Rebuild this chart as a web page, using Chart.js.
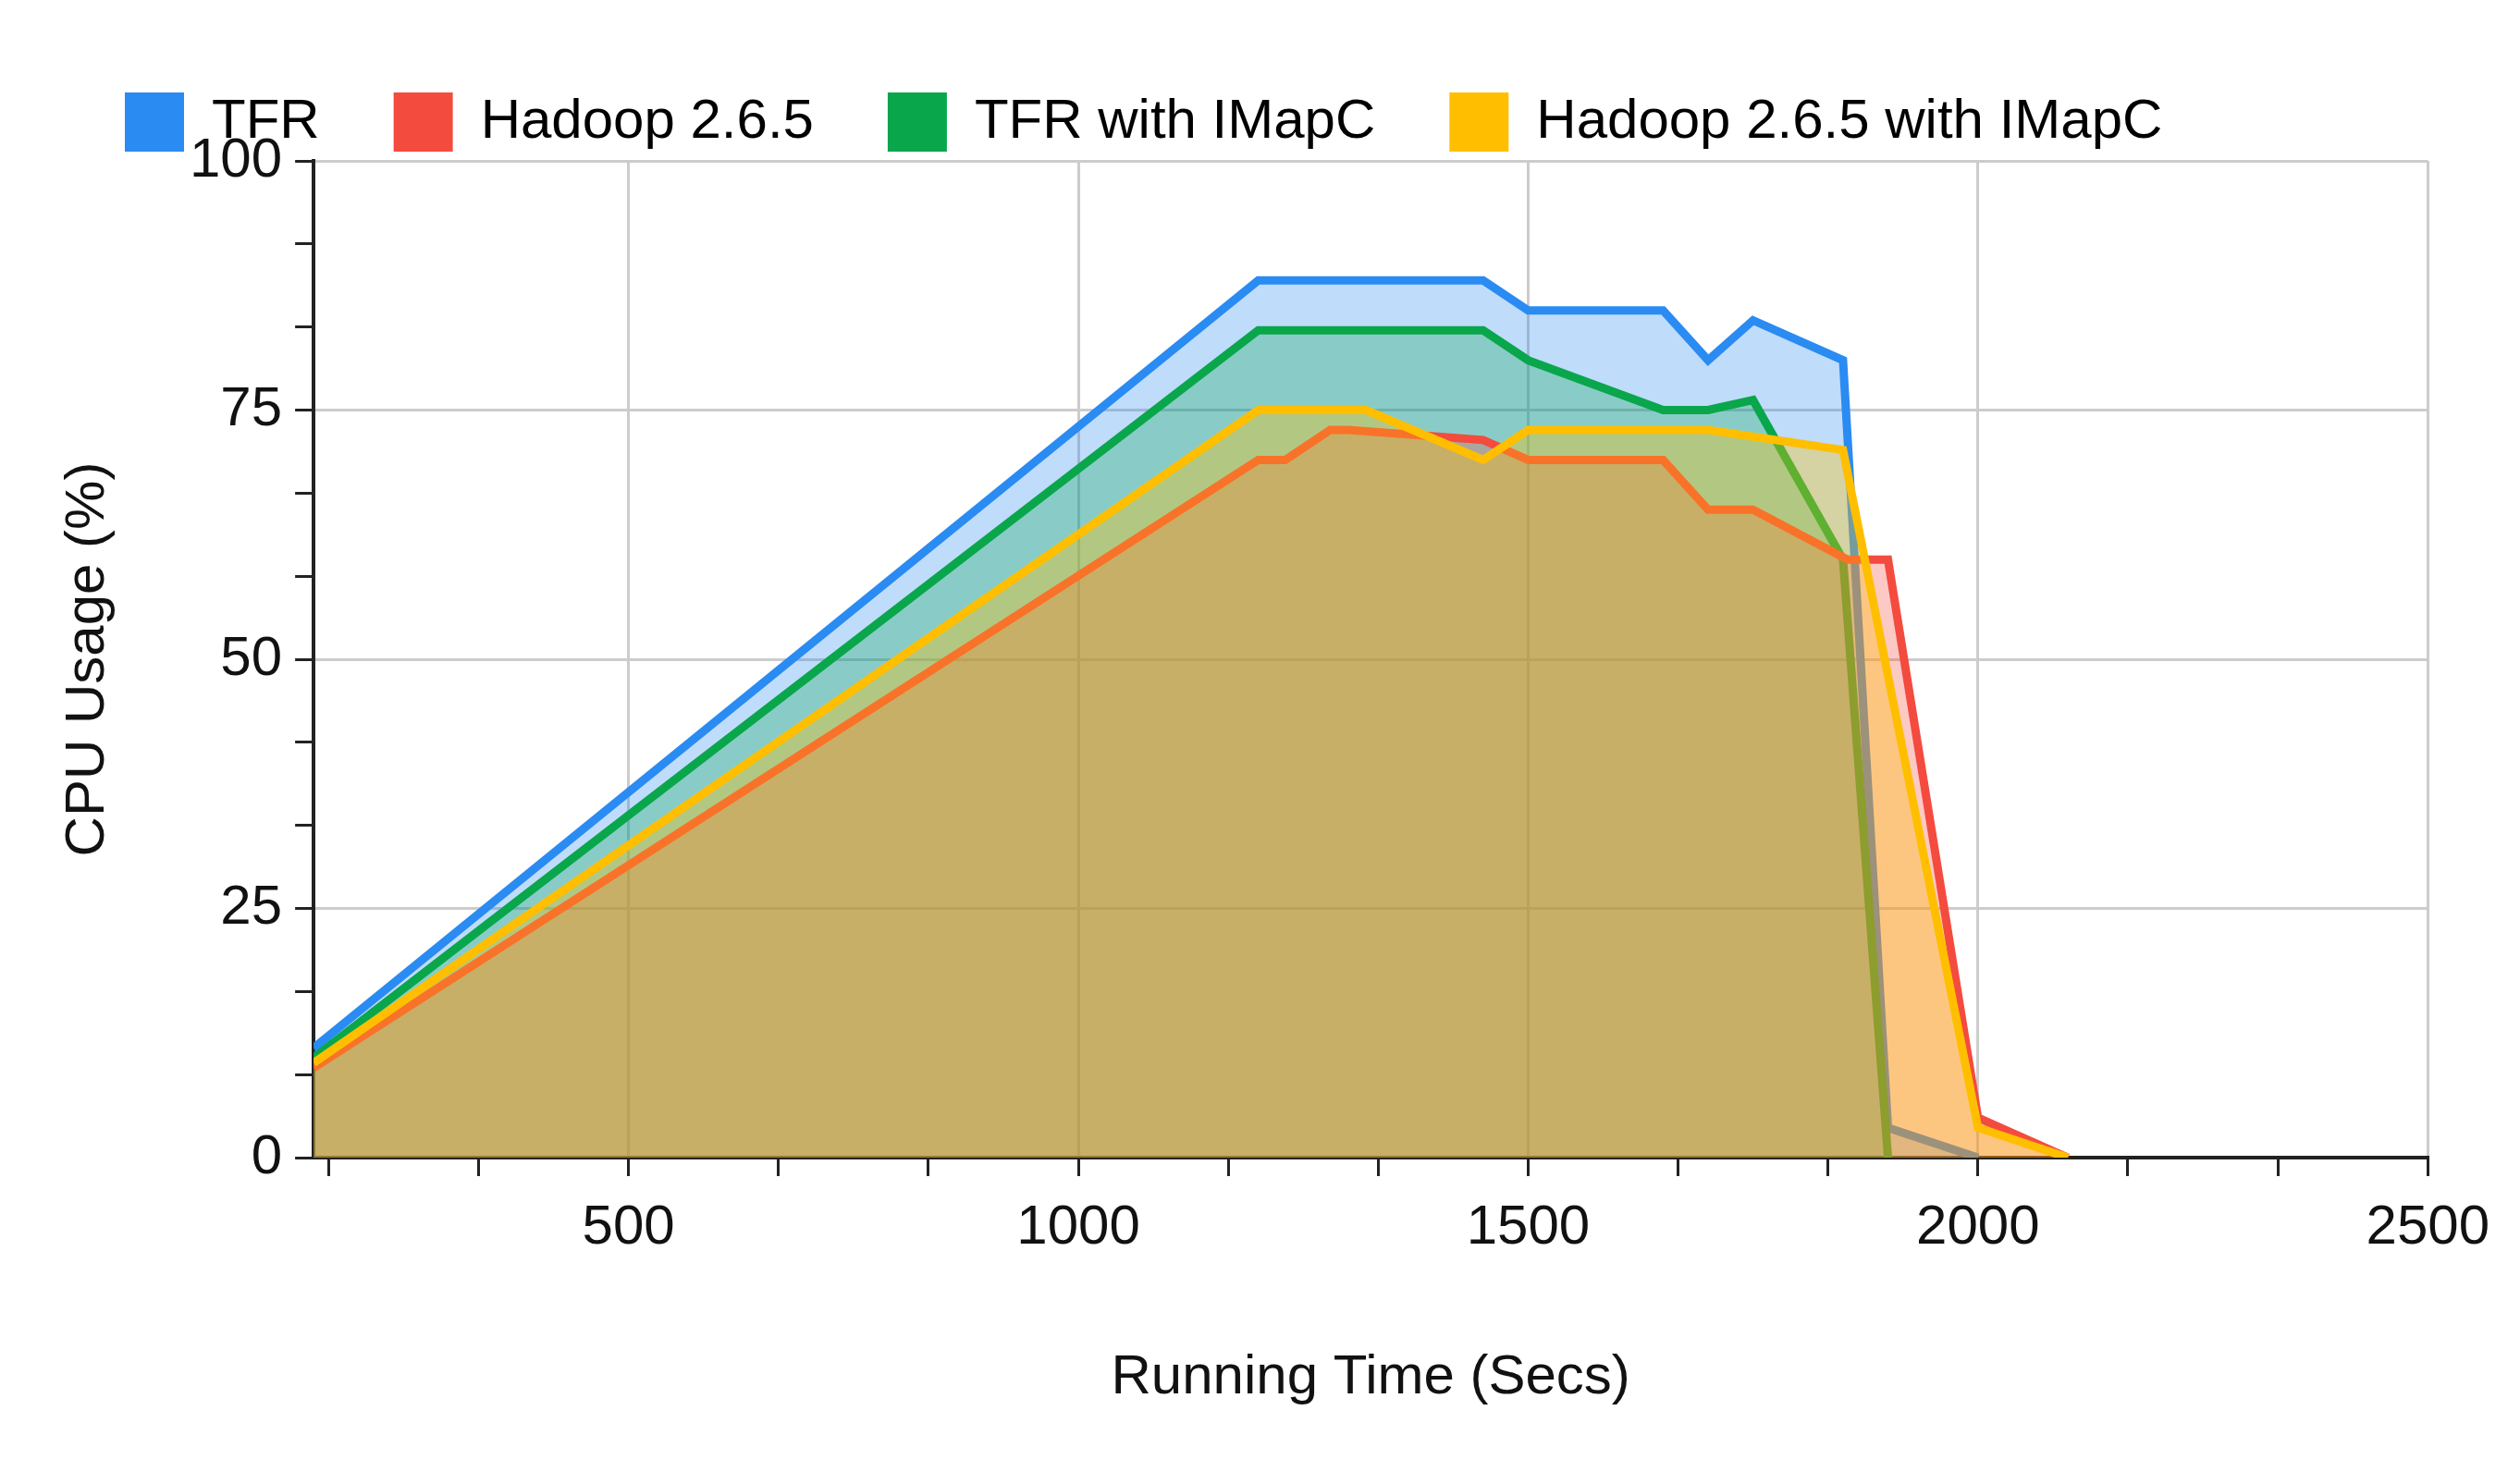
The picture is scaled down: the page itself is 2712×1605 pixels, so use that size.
<!DOCTYPE html>
<html><head><meta charset="utf-8">
<script src="https://cdn.jsdelivr.net/npm/chart.js@4"></script>
<style>html,body{margin:0;background:#fff}#c{width:2712px;height:1605px}</style>
</head><body><div id="c"><canvas id="cv"></canvas></div>
<script>
const seriesNames = ["TFR","Hadoop 2.6.5","TFR with IMapC","Hadoop 2.6.5 with IMapC"];
const tfr = [[150,11],[1200,88],[1450,88],[1500,85],[1650,85],[1700,80],[1750,84],[1850,80],[1900,3],[2000,0]];
const hadoop = [[150,9],[1200,70],[1230,70],[1280,73],[1300,73],[1450,72],[1500,70],[1650,70],[1700,65],[1750,65],[1855,60],[1900,60],[2000,4],[2100,0]];
const tfrIMapC = [[150,10],[1200,83],[1450,83],[1500,80],[1650,75],[1700,75],[1750,76],[1850,60],[1900,0]];
const hadoopIMapC = [[150,9.5],[1200,75],[1320,75],[1450,70],[1500,73],[1700,73],[1850,71],[2000,3],[2100,0]];
const xTickLabels = [500,1000,1500,2000,2500];
const yTickLabels = [0,25,50,75,100];
const colors = ["#2a8bf2","#f44b3f","#0aa64b","#ffbf00"];
const fills = ["rgba(42,139,242,0.3)","rgba(244,75,63,0.3)","rgba(10,166,75,0.3)","rgba(255,191,0,0.35)"];
const all = [tfr,hadoop,tfrIMapC,hadoopIMapC];
const orders = [4,2,3,1];
const ds = all.map((s,i)=>({label:seriesNames[i],data:s.map(p=>({x:p[0],y:p[1]})),borderColor:colors[i],backgroundColor:fills[i],
  fill:'origin',borderWidth:9,pointRadius:0,tension:0,order:orders[i]}));
const F = {family:'Arial, "Liberation Sans", sans-serif', size:60};
const xt=[];for(let i=1;i<=15;i++)xt.push(i*500/3);
const yt=[];for(let i=0;i<=12;i++)yt.push(i*25/3);
const isMajor=(v,s)=>Math.abs(v/s-Math.round(v/s))<1e-6;
new Chart(document.getElementById('cv'),{type:'line',data:{datasets:ds},
options:{responsive:true,maintainAspectRatio:false,animation:false,
 layout:{padding:{left:55,right:55,top:20,bottom:75}},
 plugins:{legend:{position:'top',align:'start',labels:{font:F,color:'#222',boxWidth:64,boxHeight:64,padding:80,
   generateLabels:(c)=>c.data.datasets.map((d,i)=>({text:d.label,fillStyle:colors[i],strokeStyle:colors[i],lineWidth:0,datasetIndex:i}))}},
   tooltip:{enabled:false}},
 scales:{
  x:{type:'linear',min:150,max:2500,
   afterBuildTicks:a=>{a.ticks=xt.map(v=>({value:v}));},
   ticks:{font:F,color:'#111',autoSkip:false,maxRotation:0,padding:20,callback:v=>isMajor(v,500)?String(Math.round(v)):''},
   grid:{color:c=>c.tick&&isMajor(c.tick.value,500)?'#cccccc':'rgba(0,0,0,0)',lineWidth:3,tickColor:'#222',tickLength:20,drawTicks:true},
   border:{color:'#222',width:4},
   title:{display:true,text:'Running Time (Secs)',font:F,color:'#111',padding:{top:70}}},
  y:{type:'linear',min:0,max:100,
   afterBuildTicks:a=>{a.ticks=yt.map(v=>({value:v}));},
   ticks:{font:F,color:'#111',autoSkip:false,padding:14,callback:v=>isMajor(v,25)?String(Math.round(v)):''},
   grid:{color:c=>c.tick&&isMajor(c.tick.value,25)?'#cccccc':'rgba(0,0,0,0)',lineWidth:3,tickColor:'#222',tickLength:20},
   border:{color:'#222',width:4},
   title:{display:true,text:'CPU Usage (%)',font:F,color:'#111',padding:{bottom:60}}}
 }}});
</script></body></html>
